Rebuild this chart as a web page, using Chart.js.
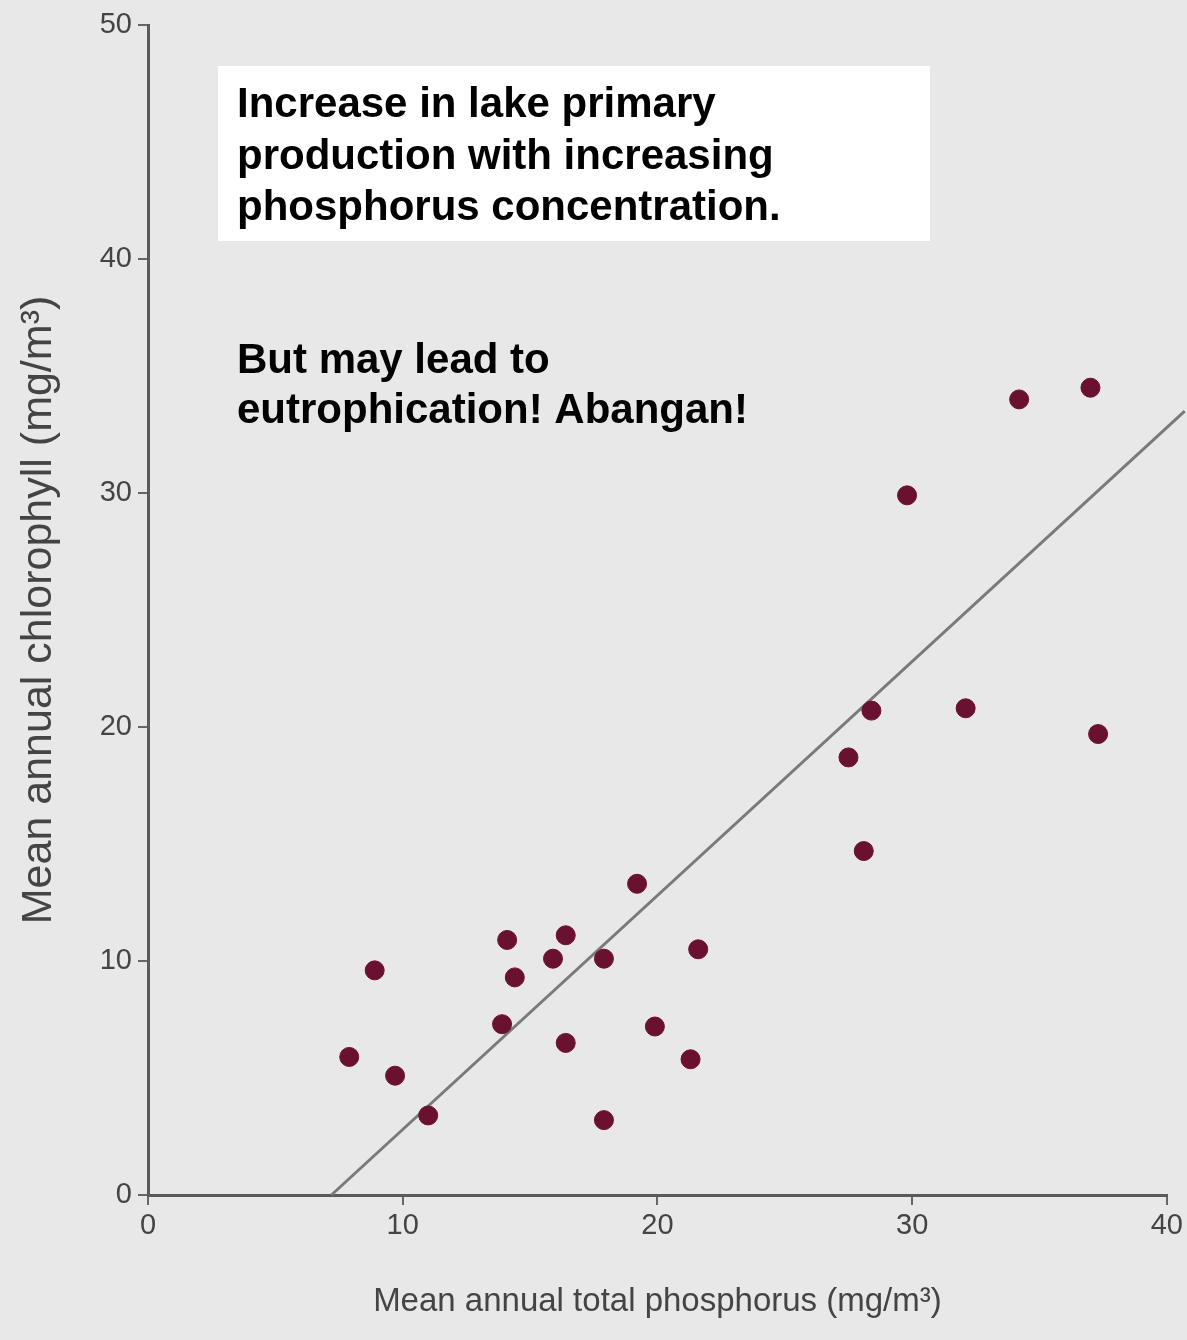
<!DOCTYPE html>
<html>
<head>
<meta charset="utf-8">
<script src="https://cdn.jsdelivr.net/npm/chart.js@4.4.1/dist/chart.umd.min.js"></script>
<style>
  html, body { margin: 0; padding: 0; background: #e8e8e8; }
  #wrap { position: relative; width: 1187px; height: 1340px; }
  canvas { display: block; }
</style>
</head>
<body>
<div id="wrap"><canvas id="c" width="1187" height="1340"></canvas></div>
<script>
// ---- data ----
const phosphorus = [7.9, 8.9, 9.7, 11.0, 13.9, 14.1, 14.4, 15.9, 16.4, 16.4, 17.9, 17.9, 19.2, 19.9, 21.3, 21.6, 27.5, 28.1, 28.4, 29.8, 32.1, 34.2, 37.0, 37.3];
const chlorophyll = [5.9, 9.6, 5.1, 3.4, 7.3, 10.9, 9.3, 10.1, 11.1, 6.5, 10.1, 3.2, 13.3, 7.2, 5.8, 10.5, 18.7, 14.7, 20.7, 29.9, 20.8, 34.0, 34.5, 19.7];
const fitX = [7.2, 40.7];
const fitY = [0, 33.5];
const xTicks = [0, 10, 20, 30, 40];
const yTicks = [0, 10, 20, 30, 40, 50];
const xTitle = 'Mean annual total phosphorus (mg/m\u00B3)';
const yTitle = 'Mean annual chlorophyll (mg/m\u00B3)';
const boxLines = ['Increase in lake primary', 'production with increasing', 'phosphorus concentration.'];
const noteLines = ['But may lead to', 'eutrophication! Abangan!'];

const scatterData = phosphorus.map((x, i) => ({ x: x, y: chlorophyll[i] }));
const fitData = fitX.map((x, i) => ({ x: x, y: fitY[i] }));

const annotations = {
  id: 'annotations',
  afterDraw(chart) {
    const ctx = chart.ctx;
    ctx.save();
    ctx.fillStyle = '#ffffff';
    ctx.fillRect(218, 66, 712, 175);
    ctx.fillStyle = '#000000';
    ctx.font = 'bold 42px "Liberation Sans", Arial, sans-serif';
    ctx.textAlign = 'left';
    ctx.textBaseline = 'alphabetic';
    boxLines.forEach((t, i) => ctx.fillText(t, 237, 117 + i * 51.5));
    noteLines.forEach((t, i) => ctx.fillText(t, 237, 373 + i * 50));
    ctx.restore();
  }
};

const tickFont = { family: '"Liberation Sans", Arial, sans-serif', size: 29 };

new Chart(document.getElementById('c'), {
  type: 'scatter',
  data: {
    datasets: [
      {
        type: 'line',
        data: fitData,
        borderColor: '#7a7a7a',
        borderWidth: 3,
        pointRadius: 0,
        fill: false,
        clip: false,
        order: 2
      },
      {
        data: scatterData,
        backgroundColor: '#6a1030',
        borderColor: '#6a1030',
        pointRadius: 9.5,
        pointHoverRadius: 9.5,
        order: 1
      }
    ]
  },
  options: {
    responsive: false,
    animation: false,
    events: [],
    layout: { padding: { top: 25, right: 17, left: 0, bottom: 0 } },
    plugins: { legend: { display: false }, tooltip: { enabled: false } },
    scales: {
      x: {
        type: 'linear',
        min: 0, max: 40,
        afterFit: (s) => { s.height = 145; },
        afterBuildTicks: (s) => { s.ticks = xTicks.map(v => ({ value: v })); },
        ticks: { font: tickFont, color: '#444', padding: 4 },
        grid: { drawOnChartArea: false, drawTicks: true, tickLength: 10, color: '#666', lineWidth: 2 },
        border: { display: true, color: '#5a5a5a', width: 3 },
        title: { display: true, text: xTitle, color: '#444', font: { family: '"Liberation Sans", Arial, sans-serif', size: 33, lineHeight: 1.2 }, padding: { top: 0, bottom: 18 } }
      },
      y: {
        type: 'linear',
        min: 0, max: 50,
        afterFit: (s) => { s.width = 148; },
        afterBuildTicks: (s) => { s.ticks = yTicks.map(v => ({ value: v })); },
        ticks: { font: tickFont, color: '#444', padding: 6 },
        grid: { drawOnChartArea: false, drawTicks: true, tickLength: 10, color: '#666', lineWidth: 2 },
        border: { display: true, color: '#5a5a5a', width: 3 },
        title: { display: true, text: yTitle, color: '#444', font: { family: '"Liberation Sans", Arial, sans-serif', size: 43, lineHeight: 1.2 }, padding: { top: 13, bottom: 0 } }
      }
    }
  },
  plugins: [annotations]
});
</script>
</body>
</html>
